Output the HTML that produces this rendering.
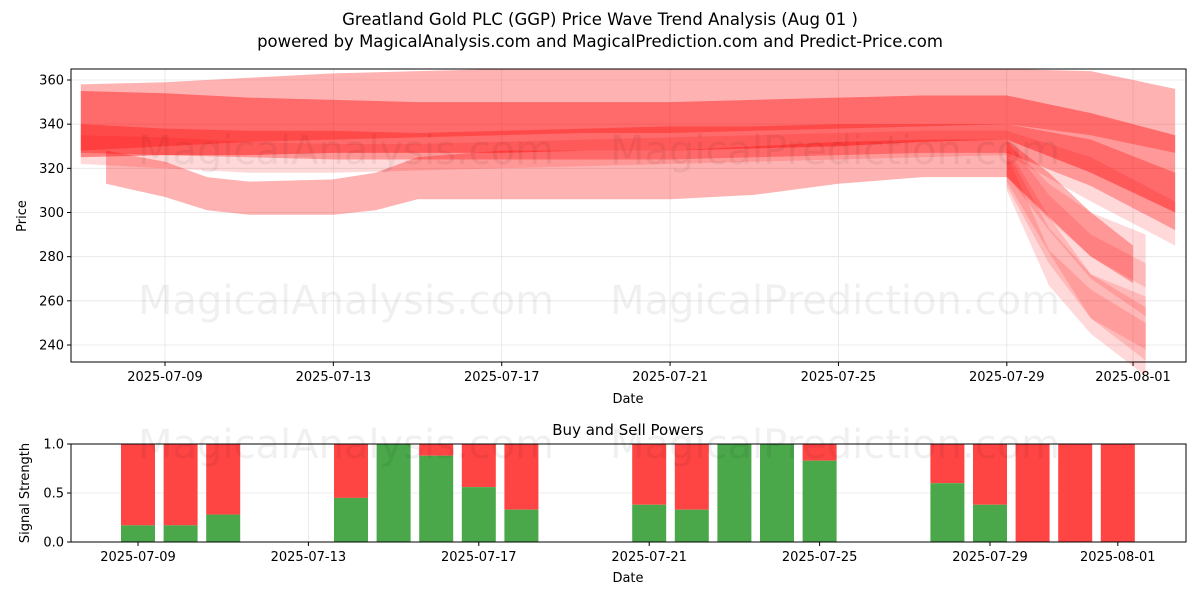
<!DOCTYPE html>
<html><head><meta charset="utf-8">
<style>
body{margin:0;background:#fff;font-family:"Liberation Sans","DejaVu Sans",sans-serif;}
svg text{font-family:"DejaVu Sans","Liberation Sans",sans-serif;}
</style></head>
<body>
<svg id="chart" width="1200" height="600" xmlns="http://www.w3.org/2000/svg">
<rect width="1200" height="600" fill="#fff"/>
<text x="600" y="25" text-anchor="middle" font-size="16.5">Greatland Gold PLC (GGP) Price Wave Trend Analysis (Aug 01 )</text>
<text x="600" y="47" text-anchor="middle" font-size="16.5">powered by MagicalAnalysis.com and MagicalPrediction.com and Predict-Price.com</text>
<g id="topPanel"></g>
<g id="botPanel"></g>
</svg>
<script>
// ---- data ----
const yTicks=[240,260,280,300,320,340,360];
const xTickLabels=["2025-07-09","2025-07-13","2025-07-17","2025-07-21","2025-07-25","2025-07-29","2025-08-01"];
const xTickDays=[2,6,10,14,18,22,25]; // days since 2025-07-07
const bandDays=[0,2,4,6,8,10,12,14,16,18,20,22,24,26];
const bandUpper1=[355,354,352,351,350,350,350,350,351,352,353,353,345,335];
const bandLower1=[325,326,326,327,327,327,328,328,329,330,332,333,318,300];
const bandUpper2=[358,359,361,363,364,365,365,365,365,365,365,365,364,356];
const bandLower2=[328,330,332,333,334,335,336,336,337,338,339,340,335,327];
const bandUpper3=[340,338,337,337,336,337,338,339,339,340,340,340,333,318];
const bandLower3=[327,326,325,324,324,324,324,324,325,326,327,327,312,292];
const bandUpper4=[335,334,332,331,331,332,333,334,335,336,337,337,325,305];
const bandLower4=[322,320,318,318,319,320,321,322,323,324,325,326,305,285];
const lowDays=[0.6,2,3,4,6,7,8,10,12,14,16,18,20,22,23,24,25];
const lowUpper=[328,323,316,314,315,318,325,328,328,328,330,332,333,333,318,300,285];
const lowLower=[313,307,301,299,299,301,306,306,306,306,308,313,316,316,298,280,268];
const fanDays=[22,23,24,25.3];
const fanEnds=[[325,300,280,265],[322,290,262,245],[320,285,262,250],[318,275,255,238],[324,305,290,278]];
const bandWidthFan=[8,8,10,12];
const sigDays=[2,3,4,7,8,9,10,11,14,15,16,17,18,21,22,23,24,25];
const buyVals=[0.17,0.17,0.28,0.45,1.0,0.88,0.56,0.33,0.38,0.33,1.0,1.0,0.83,0.6,0.38,0,0,0];
const NS="http://www.w3.org/2000/svg";
function mk(p,tag,a,name){const e=document.createElementNS(NS,tag);for(const k in a)e.setAttribute(k,a[k]);


p.appendChild(e);return e;}
const T={l:71,r:1186,t:69,b:362};
const xT=d=>165+(d-2)*42.09;
const yT=v=>80+(360-v)*2.2083;
const topG=document.getElementById('topPanel');
for(let i=0;i<yTicks.length;i++){const y=yT(yTicks[i]);
mk(topG,'line',{x1:T.l,x2:T.r,y1:y,y2:y,stroke:'#e6e6e6','stroke-width':0.8},'y-grid-line');
mk(topG,'line',{x1:T.l-4,x2:T.l,y1:y,y2:y,stroke:'#000'},'y-tick');
const tx=mk(topG,'text',{x:T.l-7,y:y+4.5,'text-anchor':'end','font-size':13},'y-tick-label');tx.textContent=yTicks[i];}
for(let i=0;i<xTickDays.length;i++){const x=xT(xTickDays[i]);
mk(topG,'line',{x1:x,x2:x,y1:T.t,y2:T.b,stroke:'#e6e6e6','stroke-width':0.8},'x-grid-line');
mk(topG,'line',{x1:x,x2:x,y1:T.b,y2:T.b+4,stroke:'#000'},'x-tick');
const tx=mk(topG,'text',{x:x,y:T.b+19,'text-anchor':'middle','font-size':13},'x-tick-label');tx.textContent=xTickLabels[i];}
function band(days,up,lo,op,name){let d='M';days.forEach((dd,i)=>d+=xT(dd)+','+yT(up[i])+' L');
for(let i=days.length-1;i>=0;i--)d+=xT(days[i])+','+yT(lo[i])+(i?' L':' Z');
mk(topG,'path',{d:d,fill:'#ff0000','fill-opacity':op},name);}
band(bandDays,bandUpper2,bandLower2,0.3,'wave-band-upper');
band(bandDays,bandUpper1,bandLower1,0.4,'wave-band-main');
band(bandDays,bandUpper3,bandLower3,0.3,'wave-band-mid');
band(bandDays,bandUpper4,bandLower4,0.15,'wave-band-mid-low');
band(lowDays,lowUpper,lowLower,0.3,'wave-band-low');
fanEnds.forEach(f=>{const u=f.map((v,i)=>v+bandWidthFan[i]),l=f.map((v,i)=>v-bandWidthFan[i]);band(fanDays,u,l,0.15,'forecast-fan');});
[[346,300,'MagicalAnalysis.com'],[835,300,'MagicalPrediction.com'],[346,150,'MagicalAnalysis.com'],[835,150,'MagicalPrediction.com']].forEach(w=>{
const tx=mk(topG,'text',{x:w[0],y:w[1]+14,'text-anchor':'middle','font-size':40,fill:'#000','fill-opacity':0.06},'watermark');tx.textContent=w[2];});
mk(topG,'rect',{x:T.l,y:T.t,width:T.r-T.l,height:T.b-T.t,fill:'none',stroke:'#000'},'plot-frame');
let lbl=mk(topG,'text',{x:628,y:403,'text-anchor':'middle','font-size':13},'x-axis-title');lbl.textContent='Date';
lbl=mk(topG,'text',{x:26,y:216,'text-anchor':'middle','font-size':13,transform:'rotate(-90 26 216)'},'y-axis-title');lbl.textContent='Price';
const B={l:71,r:1186,t:444,b:542};
const xB=d=>138+(d-2)*42.6;
const yB=v=>542-v*98;
const botG=document.getElementById('botPanel');
[0,0.5,1].forEach(v=>{const y=yB(v);
mk(botG,'line',{x1:B.l,x2:B.r,y1:y,y2:y,stroke:'#e6e6e6','stroke-width':0.8},'y-grid-line');
mk(botG,'line',{x1:B.l-4,x2:B.l,y1:y,y2:y,stroke:'#000'},'y-tick');
const tx=mk(botG,'text',{x:B.l-7,y:y+4.5,'text-anchor':'end','font-size':13},'y-tick-label');tx.textContent=v.toFixed(1);});
for(let i=0;i<xTickDays.length;i++){const x=xB(xTickDays[i]);
mk(botG,'line',{x1:x,x2:x,y1:B.t,y2:B.b,stroke:'#e6e6e6','stroke-width':0.8},'x-grid-line');
mk(botG,'line',{x1:x,x2:x,y1:B.b,y2:B.b+4,stroke:'#000'},'x-tick');
const tx=mk(botG,'text',{x:x,y:B.b+19,'text-anchor':'middle','font-size':13},'x-tick-label');tx.textContent=xTickLabels[i];}
sigDays.forEach((d,i)=>{const x=xB(d)-17;
mk(botG,'rect',{x:x,y:yB(1),width:34,height:yB(buyVals[i])-yB(1),fill:'#ff4444'},'sell-power-bar');
mk(botG,'rect',{x:x,y:yB(buyVals[i]),width:34,height:yB(0)-yB(buyVals[i]),fill:'#4aa84a'},'buy-power-bar');});
[[346,'MagicalAnalysis.com'],[835,'MagicalPrediction.com']].forEach(w=>{
const tx=mk(botG,'text',{x:w[0],y:458,'text-anchor':'middle','font-size':40,fill:'#000','fill-opacity':0.06},'watermark');tx.textContent=w[1];});
mk(botG,'rect',{x:B.l,y:B.t,width:B.r-B.l,height:B.b-B.t,fill:'none',stroke:'#000'},'plot-frame');
lbl=mk(botG,'text',{x:628,y:435,'text-anchor':'middle','font-size':15},'signal-title');lbl.textContent='Buy and Sell Powers';
lbl=mk(botG,'text',{x:628,y:582,'text-anchor':'middle','font-size':13},'x-axis-title');lbl.textContent='Date';
lbl=mk(botG,'text',{x:29,y:493,'text-anchor':'middle','font-size':13,transform:'rotate(-90 29 493)'},'y-axis-title');lbl.textContent='Signal Strength';
</script>
</body></html>
